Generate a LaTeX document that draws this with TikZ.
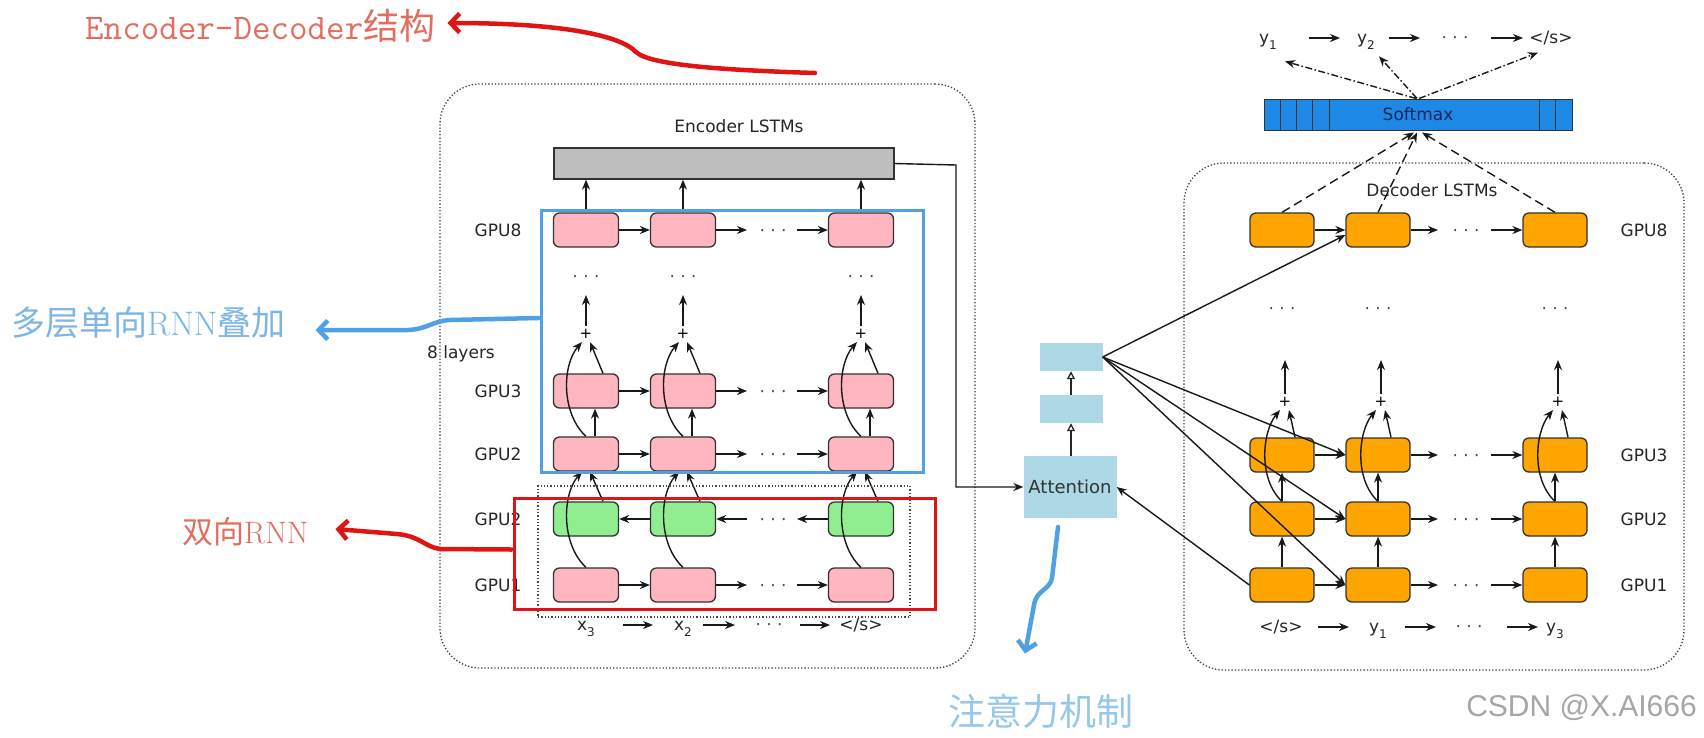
\documentclass[tikz,border=0pt]{standalone}
\usepackage{fontspec}
\usetikzlibrary{arrows.meta,calc}
\newfontfamily\labfam{DejaVu Sans}
\newfontfamily\cjkfam{Noto Sans CJK SC}
\newfontfamily\wmfam{Liberation Sans}
\newcommand\gpufont{\labfam\fontsize{17}{20}\selectfont}
\newcommand\subfnt{\labfam\fontsize{12}{12}\selectfont}
\definecolor{pinkfill}{RGB}{255,182,193}
\definecolor{greenfill}{RGB}{144,238,144}
\definecolor{orangefill}{RGB}{255,165,0}
\definecolor{attfill}{RGB}{173,216,230}
\definecolor{smfill}{RGB}{30,136,229}
\definecolor{smtext}{RGB}{20,40,90}
\definecolor{barfill}{RGB}{190,190,190}
\definecolor{annred}{RGB}{225,20,20}
\definecolor{annblue}{RGB}{80,160,230}
\definecolor{txtred}{RGB}{226,110,95}
\definecolor{txtblue}{RGB}{125,182,228}
\definecolor{txtblue2}{RGB}{150,200,235}
\definecolor{boxline}{RGB}{50,50,50}
\begin{document}
\begin{tikzpicture}[x=1pt,y=-1pt,
 cellbase/.style={draw=boxline,line width=1.3pt,rounded corners=6pt,minimum width=65pt,minimum height=34pt,inner sep=0pt},
 enccell/.style={cellbase,fill=pinkfill},
 grncell/.style={cellbase,fill=greenfill},
 deccell/.style={cellbase,fill=orangefill,minimum width=64pt},
 lbl/.style={font=\gpufont,text=black!85,inner sep=0pt},
 arr/.style={-{Stealth[length=10pt,width=8pt]},line width=1.4pt,draw=black!90},
 oarr/.style={-{Triangle[open,length=8pt,width=8pt]},line width=1.3pt,draw=black!85},
 dashedarr/.style={arr,dash pattern=on 9pt off 5pt},
 dotdasharr/.style={arr,dash pattern=on 7pt off 2.5pt on 1.5pt off 2.5pt},
 dotsn/.style={font=\gpufont,inner sep=0pt,anchor=base,text=black!70},
 plusn/.style={font=\labfam\fontsize{15}{15}\selectfont,inner sep=0pt},
 dotbox/.style={draw=black!75,line width=1.3pt,dash pattern=on 1.3pt off 2pt,rounded corners=40pt,inner sep=0pt},
 ann/.style={line width=4.5pt,line cap=round,line join=round,-{Straight Barb[length=9pt,width=19pt]}},
 attbox/.style={fill=attfill,inner sep=0pt},
]
\useasboundingbox (0,0) rectangle (1704,737);
\fill[white] (0,0) rectangle (1704,737);

% ---------- outer dotted boxes
\node[dotbox,minimum width=535pt,minimum height=584pt] (encbox) at (707.5,376) {};
\node[dotbox,minimum width=500pt,minimum height=507pt] (decbox) at (1434,416.5) {};

% ---------- encoder
\node[lbl] (enctitle) at (739,126) {Encoder LSTMs};
\node[draw=boxline,fill=barfill,line width=1.3pt,minimum width=340pt,minimum height=31pt,inner sep=0pt] (bar) at (724,163.5) {};

\foreach \rw/\Y in {8/230,3/391,2/454,1/585}{
  \node[enccell] (e\rw-a) at (586,\Y) {};
  \node[enccell] (e\rw-b) at (683,\Y) {};
  \node[enccell] (e\rw-c) at (861,\Y) {};
  \coordinate (e\rw-m1) at (747,\Y);
  \coordinate (e\rw-m2) at (797,\Y);
  \node[dotsn] (e\rw-dt) at (773,\Y+6) {· · ·};
  \draw[arr] (e\rw-a.east) -- (e\rw-b.west);
  \draw[arr] (e\rw-b.east) -- (e\rw-m1);
  \draw[arr] (e\rw-m2) -- (e\rw-c.west);
}
\node[grncell] (eg-a) at (586,519) {};
\node[grncell] (eg-b) at (683,519) {};
\node[grncell] (eg-c) at (861,519) {};
\coordinate (eg-m1) at (747,519);
\coordinate (eg-m2) at (797,519);
\node[dotsn] (eg-dt) at (773,525) {· · ·};
\draw[arr] (eg-b.west) -- (eg-a.east);
\draw[arr] (eg-m1) -- (eg-b.east);
\draw[arr] (eg-c.west) -- (eg-m2);

\foreach \cc/\X in {a/586,b/683,c/861}{
  \draw[arr] (e8-\cc.north) -- (e8-\cc.north |- bar.south);
  \node[dotsn] (ed-\cc) at (\X,282) {· · ·};
  \node[plusn] (ep-\cc) at (\X,334) {+};
  \coordinate (eu-\cc) at (\X,295);
  \draw[arr] ($(ep-\cc)+(0,-8)$) -- (eu-\cc);
  \draw[arr] (e1-\cc.north) .. controls +(-25,-23) and +(-20,23) .. ($(e2-\cc.south)+(-4,0)$);
  \draw[arr] ($(eg-\cc.north)+(17,0)$) -- ($(e2-\cc.south)+(4,0)$);
  \draw[arr] ($(e2-\cc.north)+(9,0)$) -- ($(e3-\cc.south)+(9,0)$);
  \draw[arr] (e2-\cc.north) .. controls +(-25,-23) and +(-20,23) .. ($(ep-\cc)+(-4,8)$);
  \draw[arr] ($(e3-\cc.north)+(17,0)$) -- ($(ep-\cc)+(4,8)$);
}

\node[lbl] (lg8) at (498,230) {GPU8};
\node[lbl] (lg3) at (498,391) {GPU3};
\node[lbl] (lg2) at (498,454) {GPU2};
\node[lbl] (lgg) at (498,519) {GPU2};
\node[lbl] (lg1) at (498,585) {GPU1};
\node[lbl,anchor=base] (layers) at (461,358) {8 layers};

% encoder input sequence
\node[lbl,anchor=base] (ix1) at (586,630) {x\raisebox{-6pt}{\subfnt 3}};
\node[lbl,anchor=base] (ix2) at (683,630) {x\raisebox{-6pt}{\subfnt 2}};
\node[dotsn] (ixd) at (769,630) {· · ·};
\node[lbl,anchor=base] (ix3) at (861,630) {</s>};
\coordinate (ia1) at (623,625); \coordinate (ia2) at (653,625);
\coordinate (ia3) at (703,625); \coordinate (ia4) at (735,625);
\coordinate (ia5) at (800,625); \coordinate (ia6) at (830,625);
\draw[arr] (ia1) -- (ia2);
\draw[arr] (ia3) -- (ia4);
\draw[arr] (ia5) -- (ia6);

% ---------- attention
\node[attbox,minimum width=93pt,minimum height=62pt,font=\labfam\fontsize{18}{20}\selectfont,text=black!80] (att) at (1070,487) {Attention};
\node[attbox,minimum width=63pt,minimum height=28pt] (att2) at (1071,409) {};
\node[attbox,minimum width=63pt,minimum height=28pt] (att1) at (1071,357) {};
\draw[oarr] (att.north -| att2.south) -- (att2.south);
\draw[oarr] (att2.north) -- (att1.south);
\coordinate (bend) at (956,165);
\draw[arr] (bar.east) -- (bend) |- (att.west);

% ---------- decoder
\node[lbl] (dectitle) at (1432,190) {Decoder LSTMs};
\foreach \rw/\Y in {8/230,3/455,2/519,1/585}{
  \node[deccell] (d\rw-a) at (1282,\Y) {};
  \node[deccell] (d\rw-b) at (1378,\Y) {};
  \node[deccell] (d\rw-c) at (1555,\Y) {};
  \coordinate (d\rw-m1) at (1438,\Y);
  \coordinate (d\rw-m2) at (1491,\Y);
  \node[dotsn] (d\rw-dt) at (1466,\Y+6) {· · ·};
  \draw[arr] (d\rw-a.east) -- (d\rw-b.west);
  \draw[arr] (d\rw-b.east) -- (d\rw-m1);
  \draw[arr] (d\rw-m2) -- (d\rw-c.west);
}
\foreach \cc/\X in {a/1282,b/1378,c/1555}{
  \draw[arr] (d1-\cc.north) -- (d2-\cc.south);
  \draw[arr] (d2-\cc.north) -- (d3-\cc.south);
  \node[dotsn] (dd-\cc) at (\X,314) {· · ·};
  \node[plusn] (dp-\cc) at (\X+3,402) {+};
  \coordinate (du-\cc) at (\X+3,360);
  \draw[arr] ($(dp-\cc)+(0,-8)$) -- (du-\cc);
  \draw[arr] (d2-\cc.north) .. controls +(-24,-22) and +(-18,22) .. ($(dp-\cc)+(-5,8)$);
  \draw[arr] ($(d3-\cc.north)+(13,0)$) -- ($(dp-\cc)+(4,8)$);
}
\node[lbl] (dl8) at (1644,230) {GPU8};
\node[lbl] (dl3) at (1644,455) {GPU3};
\node[lbl] (dl2) at (1644,519) {GPU2};
\node[lbl] (dl1) at (1644,585) {GPU1};

% decoder input sequence
\node[lbl,anchor=base] (di1) at (1281,632) {</s>};
\node[lbl,anchor=base] (di2) at (1378,632) {y\raisebox{-6pt}{\subfnt 1}};
\node[dotsn] (did) at (1469,632) {· · ·};
\node[lbl,anchor=base] (di3) at (1555,632) {y\raisebox{-6pt}{\subfnt 3}};
\coordinate (da1) at (1318,627); \coordinate (da2) at (1349,627);
\coordinate (da3) at (1405,627); \coordinate (da4) at (1436,627);
\coordinate (da5) at (1507,627); \coordinate (da6) at (1538,627);
\draw[arr] (da1) -- (da2);
\draw[arr] (da3) -- (da4);
\draw[arr] (da5) -- (da6);

% softmax
\node[draw=boxline,fill=smfill,line width=1pt,minimum width=308pt,minimum height=31pt,inner sep=0pt,font=\gpufont,text=smtext] (sm) at (1418,114.5) {Softmax};
\foreach \dx in {17,33,49,66,276,292}{
  \draw[line width=1pt,boxline] ($(sm.north west)+(\dx,0)$) -- ($(sm.south west)+(\dx,0)$);
}
\draw[dashedarr] (d8-a.north) -- ($(sm.south)+(-4,2)$);
\draw[dashedarr] (d8-b.north) -- ($(sm.south)+(-1,2)$);
\draw[dashedarr] (d8-c.north) -- ($(sm.south)+(4,2)$);

% outputs
\node[lbl,anchor=base] (o1) at (1268,43) {y\raisebox{-6pt}{\subfnt 1}};
\node[lbl,anchor=base] (o2) at (1366,43) {y\raisebox{-6pt}{\subfnt 2}};
\node[dotsn] (od) at (1455,43) {· · ·};
\node[lbl,anchor=base] (o3) at (1551,43) {</s>};
\coordinate (oa1) at (1309,38); \coordinate (oa2) at (1340,38);
\coordinate (oa3) at (1389,38); \coordinate (oa4) at (1420,38);
\coordinate (oa5) at (1491,38); \coordinate (oa6) at (1523,38);
\draw[arr] (oa1) -- (oa2);
\draw[arr] (oa3) -- (oa4);
\draw[arr] (oa5) -- (oa6);
\draw[dotdasharr] ($(sm.north)+(-2,0)$) -- ($(o1)+(17,20)$);
\draw[dotdasharr] ($(sm.north)+(-1,0)$) -- ($(o2)+(13,15)$);
\draw[dotdasharr] ($(sm.north)+(1,0)$) -- ($(o3)+(-13,15)$);

% attention fan
\draw[arr] (att1.east) -- ($(d8-b.west)+(0,5)$);
\draw[arr] (att1.east) -- (d3-b.west);
\draw[arr] (att1.east) -- (d2-b.west);
\draw[arr] (att1.east) -- (d1-b.west);
\draw[arr] (d1-a.west) -- (att.east);

% ---------- annotation boxes
\node[draw=boxline!90,line width=1.3pt,dash pattern=on 1.3pt off 2pt,minimum width=372pt,minimum height=131pt,inner sep=0pt] (bidir) at (724,551.5) {};
\node[draw=annblue,line width=3pt,minimum width=382pt,minimum height=262pt,inner sep=0pt] (bluebox) at (732,341) {};
\node[draw=annred,line width=3pt,minimum width=421pt,minimum height=111pt,inner sep=0pt] (redbox) at (724.5,553.5) {};

% ---------- annotations
\node[anchor=west,inner sep=0pt,text=txtred] (enclabel) at (85,26)
  {\ttfamily\fontsize{36}{40}\selectfont Encoder-Decoder\cjkfam 结构};
\coordinate (encstart) at (815,73);
\draw[ann,annred] (encstart) .. controls (720,70) and (650,65) .. (636,52) .. controls (620,35) and (560,23) .. ($(enclabel.east)+(12,-3)$);

\node[anchor=west,inner sep=0pt,text=txtblue] (mlabel) at (11,323)
  {\fontsize{34}{38}\selectfont\cjkfam 多层单向\rmfamily RNN\cjkfam 叠加};
\draw[ann,annblue] ($(bluebox.west)+(-1,-23)$) -- (450,320) .. controls (432,321) and (428,329) .. (408,330) -- ($(mlabel.east)+(30,7)$);

\node[anchor=west,inner sep=0pt,text=txtred] (blabel) at (182,532)
  {\fontsize{31}{36}\selectfont\cjkfam 双向\rmfamily RNN};
\draw[ann,annred] ($(redbox.west)+(-1,-4)$) -- (440,549) .. controls (425,547) and (420,536) .. (397,534) -- ($(blabel.east)+(27,-3)$);

\node[inner sep=0pt,text=txtblue2] (attlabel) at (1041,711)
  {\fontsize{37}{40}\selectfont\cjkfam 注意力机制};
\coordinate (attdown) at (1058,527);
\draw[ann,annblue] (attdown) -- (1052,578) .. controls (1050,590) and (1036,590) .. (1034,605) -- ($(attlabel.north)+(-16,-40)$);

\node[anchor=east,inner sep=0pt,text=black!35] (wm) at (1697,708)
  {\wmfam\fontsize{30}{34}\selectfont CSDN @X.AI666};
\end{tikzpicture}
\end{document}
